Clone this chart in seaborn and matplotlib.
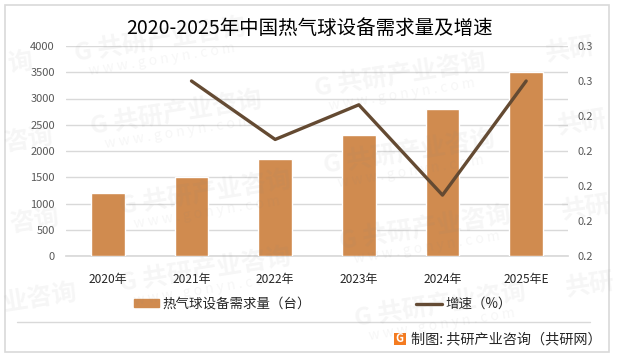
import numpy as np
import pandas as pd
import matplotlib
matplotlib.use('Agg')
import matplotlib.pyplot as plt
from matplotlib.lines import Line2D
from matplotlib.patches import Patch, Rectangle
import seaborn as sns

years = ['2020年', '2021年', '2022年', '2023年', '2024年', '2025年E']
demand = [1200, 1500, 1850, 2300, 2800, 3500]
growth = [np.nan, 0.25, 0.2333, 0.2432, 0.2174, 0.25]
left_ticks = [0, 500, 1000, 1500, 2000, 2500, 3000, 3500, 4000]
right_ticks = [0.20, 0.21, 0.22, 0.23, 0.24, 0.25, 0.26]
right_labels = ['0.2', '0.2', '0.2', '0.2', '0.2', '0.3', '0.3']

title = '2020-2025年中国热气球设备需求量及增速'
bar_name = '热气球设备需求量（台）'
line_name = '增速（%）'
source = '制图: 共研产业咨询（共研网）'

bar_color = '#D08B4F'
line_color = '#644A32'
grid_color = '#D9D9D9'

sns.set_theme(style='white')
plt.rcParams['font.family'] = ['Noto Sans CJK SC', 'DejaVu Sans']

W, H = 618, 356
df = pd.DataFrame({'year': years, 'demand': demand, 'growth': growth})

fig = plt.figure(figsize=(W / 100, H / 100), dpi=100, facecolor='white')
ax = fig.add_axes([66 / W, 1 - 256 / H, 502 / W, 210 / H])
ax.set_facecolor('none')

sns.barplot(data=df, x='year', y='demand', color=bar_color, saturation=1, width=0.4, ax=ax, zorder=3)
ax.set_xlim(-0.5, 5.5)
ax.set_ylim(0, 4000)
ax.set_yticks(left_ticks)
ax.set_xlabel('')
ax.set_ylabel('')
ax.grid(axis='y', color=grid_color, lw=1)
ax.set_axisbelow(True)
ax.tick_params(axis='y', length=0, pad=8, labelsize=8, labelcolor='#595959')
ax.tick_params(axis='x', length=0, pad=12, labelsize=8.6, labelcolor='#262626')
sns.despine(ax=ax, left=True, top=True, right=True)
ax.spines['bottom'].set_color(grid_color)

ax2 = ax.twinx()
sns.lineplot(x=df.index, y=df['growth'], color=line_color, lw=2.4, ax=ax2, zorder=5)
ax2.set_ylim(0.20, 0.26)
ax2.set_yticks(right_ticks)
ax2.set_yticklabels(right_labels)
ax2.set_ylabel('')
ax2.tick_params(axis='y', length=0, pad=7, labelsize=8, labelcolor='#595959')
sns.despine(ax=ax2, left=True, top=True, right=True, bottom=True)

fig.text(310 / W, 1 - 28 / H, title, ha='center', va='center', fontsize=14, color='black')

handles = [Patch(color=bar_color), Line2D([0], [0], color=line_color, lw=2.4)]
fig.legend(handles, [bar_name, line_name], ncol=2, frameon=False, fontsize=9.7, labelcolor='#262626',
           loc='center', bbox_to_anchor=(322.5 / W, 1 - 304 / H), handlelength=1.9, handleheight=0.55,
           handletextpad=0.25, columnspacing=7.8)

# frame, separator and footer
fig.add_artist(Rectangle((4.5 / W, 1 - 352 / H), 604.5 / W, 347 / H, transform=fig.transFigure,
                         fill=False, ec='#D9D9D9', lw=1.2))
fig.add_artist(Line2D([17 / W, 590 / W], [1 - 322 / H] * 2, color='#D9D9D9', lw=1))
fig.add_artist(Rectangle((393.5 / W, 1 - 345 / H), 12 / W, 12 / H, transform=fig.transFigure,
                         fc='#F47B20', ec='none'))
fig.text(399.5 / W, 1 - 339 / H, 'G', ha='center', va='center', fontsize=8, color='white', weight='bold')
fig.text(411 / W, 1 - 339 / H, source, ha='left', va='center', fontsize=10.2, color='#262626')

# watermark
marks = [(160, 40), (176, 113), (400, 75), (409, 152), (205, 193), (205, 270), (425, 228), (440, 305)]
for mx, my in marks:
    fig.text(mx / W, 1 - my / H, 'G 共研产业咨询', ha='center', va='center', fontsize=18, weight='bold',
             color='#808080', alpha=0.07, rotation=9, rotation_mode='anchor', zorder=10)
    fig.text((mx + 2) / W, 1 - (my + 20) / H, 'w w w . g o n y n . c o m', ha='center', va='center',
             fontsize=10, color='#808080', alpha=0.07, rotation=9, rotation_mode='anchor', zorder=10)

edge_marks = [('询', 20, 63), ('咨询', 28, 140), ('咨询', 34, 221), ('业咨询', 40, 298),
              ('共研', 570, 50), ('共研', 582, 123), ('共研', 586, 208), ('共研', 590, 285)]
for txt, mx, my in edge_marks:
    fig.text(mx / W, 1 - my / H, txt, ha='center', va='center', fontsize=18, weight='bold',
             color='#808080', alpha=0.07, rotation=9, rotation_mode='anchor', zorder=10)

fig.savefig('out.png', dpi=100)
